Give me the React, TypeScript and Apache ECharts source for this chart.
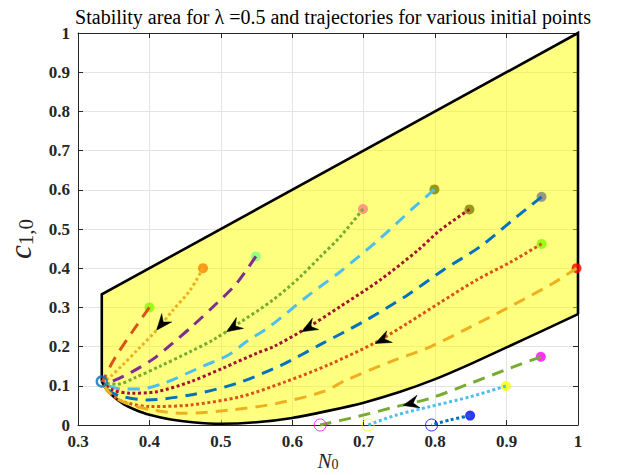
import React, { useEffect, useRef } from "react";
import * as echarts from "echarts";

// ---------- data ----------
const titleText = "Stability area for \u03bb =0.5 and trajectories for various initial points";
const xTicks = [0.3, 0.4, 0.5, 0.6, 0.7, 0.8, 0.9, 1];
const yTicks = [0, 0.1, 0.2, 0.3, 0.4, 0.5, 0.6, 0.7, 0.8, 0.9, 1];

// stability region: upper part (left edge, top edge, right edge)
const regionTopN0 = [0.3333, 0.3333, 1.0, 1.0];
const regionTopC = [0.111, 0.3333, 1.0, 0.283];
// lower curved edge, from right to left
const curveN0 = [1.0, 0.95, 0.9, 0.85, 0.8, 0.75, 0.7, 0.65, 0.6, 0.55, 0.5, 0.46, 0.43, 0.4, 0.38, 0.365, 0.35, 0.34, 0.3333];
const curveC = [0.283, 0.24, 0.198, 0.156, 0.117, 0.084, 0.057, 0.036, 0.018, 0.007, 0.003, 0.007, 0.014, 0.026, 0.039, 0.052, 0.072, 0.091, 0.111];

// trajectories (start -> end)
const t1N0 = [0.4, 0.378, 0.35, 0.337, 0.334];
const t1C = [0.3, 0.243, 0.166, 0.12, 0.11];
const t2N0 = [0.475, 0.457, 0.433, 0.41, 0.383, 0.362, 0.347, 0.336];
const t2C = [0.4, 0.344, 0.293, 0.242, 0.191, 0.152, 0.126, 0.11];
const t3N0 = [0.549, 0.522, 0.494, 0.46, 0.43, 0.405, 0.375, 0.35, 0.336];
const t3C = [0.43, 0.361, 0.31, 0.252, 0.205, 0.168, 0.135, 0.113, 0.108];
const t4N0 = [0.699, 0.667, 0.639, 0.611, 0.573, 0.527, 0.49, 0.457, 0.415, 0.38, 0.355, 0.338];
const t4C = [0.551, 0.48, 0.429, 0.378, 0.319, 0.262, 0.218, 0.187, 0.15, 0.121, 0.104, 0.106];
const t5N0 = [0.799, 0.769, 0.723, 0.667, 0.62, 0.569, 0.536, 0.51, 0.475, 0.422, 0.387, 0.36, 0.338];
const t5C = [0.601, 0.553, 0.476, 0.391, 0.327, 0.252, 0.213, 0.178, 0.15, 0.108, 0.092, 0.092, 0.103];
const t6N0 = [0.848, 0.807, 0.776, 0.723, 0.667, 0.62, 0.574, 0.55, 0.503, 0.457, 0.41, 0.373, 0.349, 0.337];
const t6C = [0.55, 0.497, 0.446, 0.37, 0.302, 0.247, 0.2, 0.183, 0.145, 0.11, 0.085, 0.081, 0.089, 0.104];
const t7N0 = [0.949, 0.914, 0.863, 0.811, 0.76, 0.7, 0.639, 0.585, 0.522, 0.457, 0.396, 0.363, 0.345, 0.336];
const t7C = [0.582, 0.531, 0.455, 0.395, 0.33, 0.264, 0.205, 0.153, 0.106, 0.0765, 0.064, 0.072, 0.085, 0.103];
const t8N0 = [0.949, 0.905, 0.858, 0.805, 0.76, 0.716, 0.65, 0.59, 0.527, 0.457, 0.401, 0.363, 0.345, 0.336];
const t8C = [0.462, 0.415, 0.37, 0.31, 0.258, 0.21, 0.153, 0.11, 0.072, 0.051, 0.047, 0.0595, 0.081, 0.103];
const t9N0 = [0.998, 0.965, 0.907, 0.845, 0.79, 0.737, 0.676, 0.643, 0.578, 0.513, 0.447, 0.405, 0.368, 0.345, 0.336];
const t9C = [0.4, 0.3615, 0.304, 0.246, 0.197, 0.161, 0.115, 0.085, 0.055, 0.038, 0.03, 0.038, 0.055, 0.08, 0.103];
const t10N0 = [0.948, 0.905, 0.849, 0.793, 0.746, 0.69, 0.639];
const t10C = [0.174, 0.145, 0.106, 0.068, 0.047, 0.021, 0.0];
const t11N0 = [0.899, 0.849, 0.793, 0.746, 0.706];
const t11C = [0.0995, 0.072, 0.047, 0.0255, 0.0];
const t12N0 = [0.849, 0.821, 0.795];
const t12C = [0.024, 0.013, 0.0];

const trajN0 = [t1N0, t2N0, t3N0, t4N0, t5N0, t6N0, t7N0, t8N0, t9N0, t10N0, t11N0, t12N0];
const trajC = [t1C, t2C, t3C, t4C, t5C, t6C, t7C, t8C, t9C, t10C, t11C, t12C];
const trajLineColors = ["#D95319", "#EDB120", "#7E2F8E", "#77AC30", "#4DBEEE", "#A2142F", "#0072BD", "#D95319", "#EDB120", "#77AC30", "#4DBEEE", "#0072BD"];
const trajDashed = [true, false, true, false, true, false, true, false, true, true, false, false];
const startColors = ["#80FF00", "#FF8000", "#80FF80", "#FF8080", "#808000", "#808000", "#808080", "#80FF00", "#FF0000", "#FF00FF", "#FFFF00", "#0000FF"];
// trajectories that leave the region end on the axis with an open circle
const exitTraj = [9, 10, 11];
// common end point of the stable trajectories
const cornerN0 = [0.3333];
const cornerC = [0.111];

// arrow heads: tip position and trajectory
const arrowN0 = [0.41, 0.508, 0.613, 0.716, 0.755];
const arrowC = [0.242, 0.238, 0.238, 0.208, 0.05];
const arrowTraj = [1, 3, 5, 7, 9];

const SERIF = "Liberation Serif";

export default function App() {
  const ref = useRef<HTMLDivElement>(null);
  useEffect(() => {
    document.body.style.margin = "0";
    if (!ref.current) return;
    const chart = echarts.init(ref.current, null, { renderer: "svg" });

    const axisColor = "#262626";
    const baseX = { type: "value", min: 0.3, max: 1, interval: 0.1 };
    const baseY = { type: "value", min: 0, max: 1, interval: 0.1 };

    const series: any[] = [];

    // region fill + outline
    series.push({
      type: "custom",
      z: 1,
      silent: true,
      data: curveN0.map((n, i) => [n, curveC[i]]),
      renderItem: (params: any, api: any) => {
        if (params.dataIndex !== 0) return null;
        const top = regionTopN0.map((n, i) => api.coord([n, regionTopC[i]]));
        const bottom = curveN0.map((n, i) => api.coord([n, curveC[i]]));
        return {
          type: "group",
          children: [
            {
              type: "polygon",
              shape: { points: top.concat(bottom.slice(1)), smooth: 0 },
              style: { fill: "rgba(255,255,0,0.5)", stroke: "none" },
            },
            {
              type: "polyline",
              shape: { points: top },
              style: { fill: "none", stroke: "#000", lineWidth: 2.6, lineJoin: "miter" },
            },
            {
              type: "polyline",
              shape: { points: bottom, smooth: 0.2 },
              style: { fill: "none", stroke: "#000", lineWidth: 2.6 },
            },
          ],
        };
      },
    });

    // start markers
    series.push({
      type: "scatter",
      z: 2,
      symbol: "circle",
      symbolSize: 10,
      silent: true,
      clip: false,
      data: trajN0.map((arr, k) => ({
        value: [arr[0], trajC[k][0]],
        itemStyle: { color: startColors[k] },
      })),
    });

    // trajectories
    trajN0.forEach((arr, k) => {
      series.push({
        type: "line",
        z: 3,
        silent: true,
        clip: false,
        smooth: 0.3,
        showSymbol: false,
        symbol: "none",
        data: arr.map((n, i) => [n, trajC[k][i]]),
        lineStyle: {
          color: trajLineColors[k],
          width: 3,
          type: trajDashed[k] ? [12, 8] : [3, 2.6],
          cap: "butt",
        },
      });
    });

    // end circles of exiting trajectories
    series.push({
      type: "scatter",
      z: 4,
      silent: true,
      clip: false,
      symbol: "circle",
      symbolSize: 12,
      data: exitTraj.map((k) => ({
        value: [trajN0[k][trajN0[k].length - 1], trajC[k][trajC[k].length - 1]],
        itemStyle: { color: "rgba(0,0,0,0)", borderColor: startColors[k], borderWidth: 1 },
      })),
    });
    // corner circle
    series.push({
      type: "scatter",
      z: 4,
      silent: true,
      clip: false,
      symbol: "circle",
      symbolSize: 10,
      data: cornerN0.map((n, i) => ({
        value: [n, cornerC[i]],
        itemStyle: { color: "rgba(0,0,0,0)", borderColor: "#0072BD", borderWidth: 2.4 },
      })),
    });

    // arrow heads
    series.push({
      type: "custom",
      z: 5,
      silent: true,
      data: arrowN0.map((n, i) => [n, arrowC[i], arrowTraj[i]]),
      renderItem: (params: any, api: any) => {
        const k = arrowTraj[params.dataIndex];
        const tip = api.coord([api.value(0), api.value(1)]);
        const pts = trajN0[k].map((n, i) => api.coord([n, trajC[k][i]]));
        let best = 0;
        let bd = Infinity;
        for (let i = 0; i < pts.length - 1; i++) {
          const ax = pts[i][0], ay = pts[i][1];
          const bx = pts[i + 1][0], by = pts[i + 1][1];
          const vx = bx - ax, vy = by - ay;
          const l2 = vx * vx + vy * vy || 1;
          let t = ((tip[0] - ax) * vx + (tip[1] - ay) * vy) / l2;
          t = Math.max(0, Math.min(1, t));
          const d = Math.hypot(ax + t * vx - tip[0], ay + t * vy - tip[1]);
          if (d < bd) {
            bd = d;
            best = i;
          }
        }
        let dx = pts[best + 1][0] - pts[best][0];
        let dy = pts[best + 1][1] - pts[best][1];
        const len = Math.hypot(dx, dy) || 1;
        dx /= len;
        dy /= len;
        const nx = -dy, ny = dx;
        const L = 16, W = 6.5, B = 10.5;
        const p = [
          [tip[0], tip[1]],
          [tip[0] - L * dx + W * nx, tip[1] - L * dy + W * ny],
          [tip[0] - B * dx, tip[1] - B * dy],
          [tip[0] - L * dx - W * nx, tip[1] - L * dy - W * ny],
        ];
        return { type: "polygon", shape: { points: p }, style: { fill: "#000", stroke: "#000", lineWidth: 0.5 } };
      },
    });

    chart.setOption({
      animation: false,
      backgroundColor: "#fff",
      title: {
        text: titleText,
        left: 328,
        textAlign: "center",
        top: 2,
        textStyle: { fontFamily: SERIF, fontWeight: "normal", fontSize: 20, color: "#000" },
      },
      grid: { left: 78, right: 48, top: 33, bottom: 50, outerBoundsMode: "none", containLabel: false },
      xAxis: [
        {
          ...baseX,
          position: "bottom",
          name: "{i|N}{s|0}",
          nameLocation: "middle",
          nameGap: 25,
          nameMoveOverlap: false,
          nameTextStyle: {
            rich: {
              i: { fontFamily: SERIF, fontStyle: "italic", fontSize: 21, lineHeight: 21, color: axisColor },
              s: { fontFamily: SERIF, fontSize: 14, lineHeight: 14, color: axisColor, verticalAlign: "bottom" },
            },
          },
          axisLine: { show: true, onZero: false, lineStyle: { color: axisColor, width: 1 } },
          axisTick: { show: true, inside: true, length: 5, lineStyle: { color: axisColor } },
          axisLabel: {
            margin: 8,
            fontFamily: SERIF,
            fontWeight: "bold",
            fontSize: 17,
            color: axisColor,
            formatter: (v: number) => {
              const t = xTicks.find((x) => Math.abs(x - v) < 1e-6);
              return t === undefined ? "" : String(t);
            },
          },
          splitLine: { show: true, lineStyle: { color: "#e3e3e3", width: 1 } },
        },
        {
          ...baseX,
          position: "top",
          axisLine: { show: true, onZero: false, lineStyle: { color: axisColor, width: 1 } },
          axisTick: { show: true, inside: true, length: 5, lineStyle: { color: axisColor } },
          axisLabel: { show: false },
          splitLine: { show: false },
        },
      ],
      yAxis: [
        {
          ...baseY,
          position: "left",
          name: "{i|c}{s|1,0}",
          nameLocation: "middle",
          nameGap: 42,
          nameTextStyle: {
            padding: [0, 20, 0, 0],
            rich: {
              i: { fontFamily: SERIF, fontStyle: "italic", fontSize: 31, color: axisColor },
              s: { fontFamily: SERIF, fontSize: 21, color: axisColor, verticalAlign: "bottom" },
            },
          },
          axisLine: { show: true, onZero: false, lineStyle: { color: axisColor, width: 1 } },
          axisTick: { show: true, inside: true, length: 5, lineStyle: { color: axisColor } },
          axisLabel: {
            margin: 8,
            fontFamily: SERIF,
            fontWeight: "bold",
            fontSize: 17,
            color: axisColor,
            formatter: (v: number) => {
              const t = yTicks.find((y) => Math.abs(y - v) < 1e-6);
              return t === undefined ? "" : String(t);
            },
          },
          splitLine: { show: true, lineStyle: { color: "#e3e3e3", width: 1 } },
        },
        {
          ...baseY,
          position: "right",
          axisLine: { show: true, onZero: false, lineStyle: { color: axisColor, width: 1 } },
          axisTick: { show: true, inside: true, length: 5, lineStyle: { color: axisColor } },
          axisLabel: { show: false },
          splitLine: { show: false },
        },
      ],
      series,
    });

    return () => chart.dispose();
  }, []);

  return <div ref={ref} style={{ width: 626, height: 475 }} />;
}
